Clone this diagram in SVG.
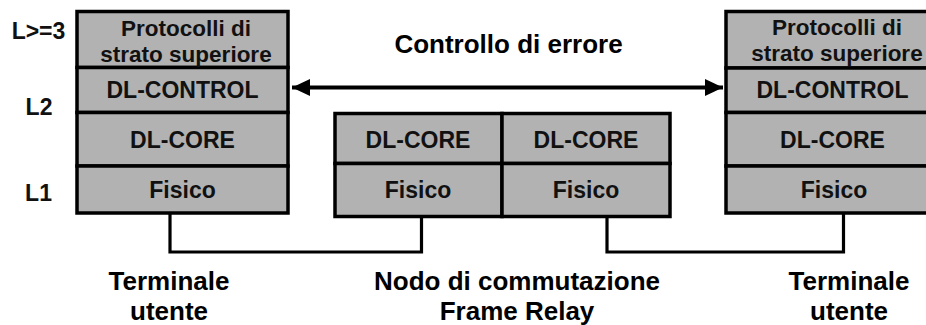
<svg xmlns="http://www.w3.org/2000/svg" width="926" height="325" viewBox="0 0 926 325">
  <style>
    .layer { fill: #b2b2b2; stroke: #000; stroke-width: 3.5; }
    .lbl { font-family: "Liberation Sans", Arial, sans-serif; font-weight: bold; font-size: 23px; fill: #111; text-anchor: middle; }
    .lbl2 { font-size: 22.5px; }
    .cap { font-family: "Liberation Sans", Arial, sans-serif; font-weight: bold; font-size: 26px; fill: #000; text-anchor: middle; }
    .wire { fill: none; stroke: #000; stroke-width: 3.2; }
    .arrow { stroke: #000; stroke-width: 4; }
  </style>
  <defs>
    <marker id="head" markerUnits="userSpaceOnUse" markerWidth="18" markerHeight="17" refX="18" refY="8.5" orient="auto-start-reverse">
      <path d="M0,0 L18,8.5 L0,17 z" fill="#000"/>
    </marker>
  </defs>
  <rect width="926" height="325" fill="#fff"/>

  <!-- layer labels -->
  <g id="levels">
    <text class="lbl" x="38.5" y="39">L&gt;=3</text>
    <text class="lbl" x="39" y="115">L2</text>
    <text class="lbl" x="38.5" y="201">L1</text>
  </g>

  <!-- left user terminal stack -->
  <g id="terminal-left">
    <rect class="layer" x="77" y="11.5" width="211" height="56"/>
    <rect class="layer" x="77" y="67.5" width="211" height="45"/>
    <rect class="layer" x="77" y="112.5" width="211" height="53.5"/>
    <rect class="layer" x="77" y="166" width="211" height="47"/>
    <text class="lbl lbl2" x="186" y="36">Protocolli di</text>
    <text class="lbl lbl2" x="186" y="61.5">strato superiore</text>
    <text class="lbl" x="182.5" y="98">DL-CONTROL</text>
    <text class="lbl" x="182.5" y="148">DL-CORE</text>
    <text class="lbl" x="182.5" y="198">Fisico</text>
  </g>

  <!-- Frame Relay switching node -->
  <g id="switch-node">
    <rect class="layer" x="335" y="113.5" width="167" height="50"/>
    <rect class="layer" x="335" y="163.5" width="167" height="53"/>
    <rect class="layer" x="502" y="113.5" width="168" height="50"/>
    <rect class="layer" x="502" y="163.5" width="168" height="53"/>
    <text class="lbl" x="418" y="148">DL-CORE</text>
    <text class="lbl" x="418" y="198">Fisico</text>
    <text class="lbl" x="586" y="148">DL-CORE</text>
    <text class="lbl" x="586" y="198">Fisico</text>
  </g>

  <!-- right user terminal stack -->
  <g id="terminal-right">
    <rect class="layer" x="726" y="11.5" width="213" height="56.5"/>
    <rect class="layer" x="726" y="68" width="213" height="44.5"/>
    <rect class="layer" x="726" y="112.5" width="213" height="53.5"/>
    <rect class="layer" x="726" y="166" width="213" height="47"/>
    <text class="lbl lbl2" x="837" y="35">Protocolli di</text>
    <text class="lbl lbl2" x="837" y="60.5">strato superiore</text>
    <text class="lbl" x="832.5" y="98">DL-CONTROL</text>
    <text class="lbl" x="832.5" y="148">DL-CORE</text>
    <text class="lbl" x="834" y="198">Fisico</text>
  </g>

  <!-- connectors: physical links and end-to-end error control -->
  <g id="connectors">
    <polyline class="wire" points="170,213 170,252 421.5,252 421.5,216.5"/>
    <polyline class="wire" points="607,216.5 607,252 843.5,252 843.5,213"/>
    <line class="arrow" x1="292" y1="87.5" x2="723" y2="87.5" marker-start="url(#head)" marker-end="url(#head)"/>
  </g>

  <!-- captions -->
  <g id="captions">
    <text class="cap" x="508.5" y="53">Controllo di errore</text>
    <text class="cap" x="169" y="290">Terminale</text>
    <text class="cap" x="169" y="320">utente</text>
    <text class="cap" x="517" y="290">Nodo di commutazione</text>
    <text class="cap" x="517" y="320">Frame Relay</text>
    <text class="cap" x="849" y="290">Terminale</text>
    <text class="cap" x="849" y="320">utente</text>
  </g>
</svg>
